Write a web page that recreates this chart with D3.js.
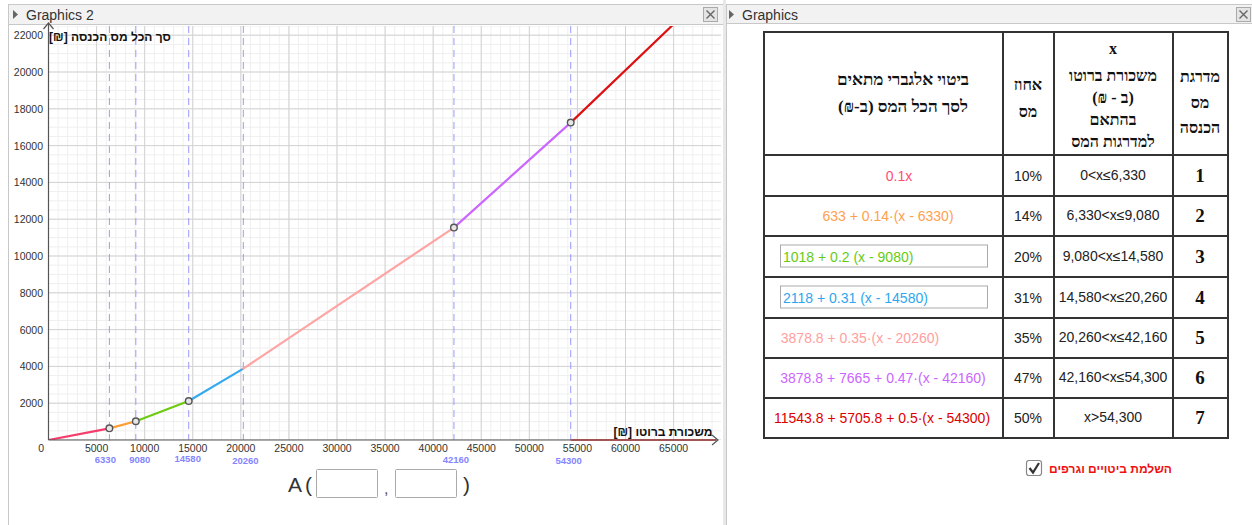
<!DOCTYPE html>
<html><head><meta charset="utf-8">
<script src="https://cdn.jsdelivr.net/npm/d3@7"></script>
<style>
body{margin:0;background:#fff;overflow:hidden}
svg{display:block;font-family:"Liberation Sans",Arial,sans-serif}
</style>
</head><body>
<svg id="c" width="1252" height="525"></svg>
<script>
// ---------- DATA ----------
const bracketStart = [0, 6330, 9080, 14580, 20260, 42160, 54300];
const bracketEnd   = [6330, 9080, 14580, 20260, 42160, 54300, 70000];
const taxAtStart   = [0, 633, 1018, 2118, 3878.8, 11543.8, 17249.6];
const taxAtEnd     = [633, 1018, 2118, 3878.8, 11543.8, 17249.6, 25099.6];
const pointX = [6330, 9080, 14580, 42160, 54300];
const pointY = [633, 1018, 2118, 11543.8, 17249.6];
const dashedX = [6330, 9080, 14580, 20260, 42160, 54300];
const xTicks = [5000,10000,15000,20000,25000,30000,35000,40000,45000,50000,55000,60000,65000];
const yTicks = [2000,4000,6000,8000,10000,12000,14000,16000,18000,20000,22000];
const taxRates = ["10%","14%","20%","31%","35%","47%","50%"];
const rangeLabels = ["0<x≤6,330","6,330<x≤9,080","9,080<x≤14,580","14,580<x≤20,260","20,260<x≤42,160","42,160<x≤54,300","x>54,300"];
const expressions = ["0.1x","633 + 0.14·(x - 6330)","1018 + 0.2 (x - 9080)","2118 + 0.31 (x - 14580)","3878.8 + 0.35·(x - 20260)","3878.8 + 7665 + 0.47·(x - 42160)","11543.8 + 5705.8 + 0.5·(x - 54300)"];
const bracketNumbers = ["1","2","3","4","5","6","7"];

// ---------- STYLE / LAYOUT ----------
const segColors  = ["#f53d6b","#ff9c33","#6dcc12","#36aaf0","#ffa3a3","#cc66ff","#dd1111"];
const textColors = ["#ff4d73","#ffa04d","#66cc11","#2ea7ee","#ffa0a0","#cc66ff","#dd0000"];
const exprIsInput = [false,false,true,true,false,false,false];
const exprCenter = [899,888,0,0,860,883,882];
const rowTops = [155,196,236,277,318,358,398,438];
const colX = [764,1003,1054,1173,1228];
const blueLabelDx = [-4,4,-1,2,2,-2];
const blueLabelDy = [0,0,-1,1,0,1];

const svg = d3.select("#c");

// ---------- PANELS ----------
svg.append("rect").attr("x",8.5).attr("y",4.5).attr("width",715).attr("height",530).attr("fill","#fff").attr("stroke","#c8c8c8");
svg.append("rect").attr("x",8.5).attr("y",4.5).attr("width",715).attr("height",20).attr("fill","#f2f2f2").attr("stroke","#c8c8c8");
svg.append("rect").attr("x",726.5).attr("y",4.5).attr("width",530).attr("height",530).attr("fill","#fff").attr("stroke","#c8c8c8");
svg.append("rect").attr("x",726.5).attr("y",4.5).attr("width",530).attr("height",19).attr("fill","#f2f2f2").attr("stroke","#c8c8c8");
svg.append("rect").attr("x",723).attr("y",0).attr("width",3).attr("height",525).attr("fill","#e8e8e8");

function titleBar(x, label){
  svg.append("path").attr("d",`M${x},10 L${x+5},14.5 L${x},19 Z`).attr("fill","#666");
  svg.append("text").attr("x",x+13).attr("y",20).attr("font-size",14).attr("fill","#333").text(label);
}
titleBar(13,"Graphics 2");
titleBar(729,"Graphics");
function closeBtn(x){
  svg.append("rect").attr("x",x+0.5).attr("y",7.5).attr("width",14).attr("height",14).attr("fill","#e4e4e4").attr("stroke","#aaa");
  svg.append("path").attr("d",`M${x+3.5},${10.5} L${x+11.5},${18.5} M${x+11.5},${10.5} L${x+3.5},${18.5}`).attr("stroke","#666").attr("stroke-width",1.4);
}
closeBtn(703);
closeBtn(1236);

// ---------- CHART ----------
const x = d3.scaleLinear().domain([0,70000]).range([48.5, 48.5+70000*0.009617]);
const y = d3.scaleLinear().domain([0,22500]).range([440, 440-22500*0.0184]);
const plotL = 48.5, plotR = 721, plotT = 26, plotB = 440;

svg.append("clipPath").attr("id","clip").append("rect").attr("x",plotL).attr("y",plotT).attr("width",plotR-plotL).attr("height",plotB-plotT);
const g = svg.append("g").attr("clip-path","url(#clip)");

const minorX = d3.range(0,70001,1000), minorY = d3.range(0,22501,500);
g.selectAll(".mx").data(minorX).join("line").attr("x1",d=>x(d)).attr("x2",d=>x(d)).attr("y1",plotT).attr("y2",plotB).attr("stroke","#efefef");
g.selectAll(".my").data(minorY).join("line").attr("y1",d=>y(d)).attr("y2",d=>y(d)).attr("x1",plotL).attr("x2",plotR).attr("stroke","#efefef");
const majorX = d3.range(0,70001,5000), majorY = d3.range(0,22501,2000);
g.selectAll(".Mx").data(majorX).join("line").attr("x1",d=>x(d)).attr("x2",d=>x(d)).attr("y1",plotT).attr("y2",plotB).attr("stroke","#d3d3d3");
g.selectAll(".My").data(majorY).join("line").attr("y1",d=>y(d)).attr("y2",d=>y(d)).attr("x1",plotL).attr("x2",plotR).attr("stroke","#d3d3d3");

g.selectAll(".dl").data(dashedX).join("line").attr("x1",d=>x(d)).attr("x2",d=>x(d)).attr("y1",plotT).attr("y2",plotB)
  .attr("stroke","#9a9aff").attr("stroke-dasharray","7,5");

// axes
svg.append("line").attr("x1",plotL).attr("x2",717).attr("y1",plotB).attr("y2",plotB).attr("stroke","#555").attr("stroke-width",1.2);
svg.append("line").attr("x1",x(54300)).attr("x2",716).attr("y1",plotB).attr("y2",plotB).attr("stroke","#a33a3a").attr("stroke-width",1.5);
svg.append("path").attr("d",`M712,435 L718,440 L712,445`).attr("fill","none").attr("stroke","#555").attr("stroke-width",1.2);
svg.append("line").attr("x1",plotL).attr("x2",plotL).attr("y1",plotB).attr("y2",24).attr("stroke","#555").attr("stroke-width",1.2);
svg.append("path").attr("d",`M${plotL-5},29 L${plotL},23 L${plotL+5},29`).attr("fill","none").attr("stroke","#555").attr("stroke-width",1.2);

// tick labels
svg.selectAll(".xt").data(xTicks).join("text").attr("x",d=>x(d)).attr("y",452).attr("text-anchor","middle")
  .attr("font-size",10.5).attr("fill","#333").text(d=>d);
svg.append("text").attr("x",44).attr("y",452).attr("text-anchor","end").attr("font-size",10.5).attr("fill","#333").text("0");
svg.selectAll(".yt").data(yTicks).join("text").attr("x",43).attr("y",d=>y(d)+4).attr("text-anchor","end")
  .attr("font-size",10.5).attr("fill","#333").text(d=>d);
svg.selectAll(".bl").data(dashedX).join("text").attr("x",(d,i)=>x(d)+blueLabelDx[i]).attr("y",(d,i)=>463+blueLabelDy[i]).attr("text-anchor","middle")
  .attr("font-size",9.5).attr("font-weight","bold").attr("fill","#8585ff").text(d=>d);

// segments
g.selectAll(".seg").data(bracketStart).join("line")
  .attr("x1",(d,i)=>x(bracketStart[i])).attr("y1",(d,i)=>y(taxAtStart[i]))
  .attr("x2",(d,i)=>x(bracketEnd[i])).attr("y2",(d,i)=>y(taxAtEnd[i]))
  .attr("stroke",(d,i)=>segColors[i]).attr("stroke-width",2.2).attr("stroke-linecap","round");

// points
svg.selectAll(".pt").data(pointX).join("circle").attr("cx",d=>x(d)).attr("cy",(d,i)=>y(pointY[i])).attr("r",3.3)
  .attr("fill","#e6e6e6").attr("stroke","#555").attr("stroke-width",1.4);

// axis titles
svg.append("text").attr("x",110).attr("y",41).attr("text-anchor","middle").attr("direction","rtl")
  .attr("font-size",12).attr("font-weight","bold").attr("fill","#111").text("סך הכל מס הכנסה [₪]");
svg.append("text").attr("x",663).attr("y",436).attr("text-anchor","middle").attr("direction","rtl")
  .attr("font-size",12).attr("font-weight","bold").attr("fill","#111").text("משכורת ברוטו [₪]");

// A( , )
svg.append("text").attr("x",288).attr("y",492).attr("font-size",21).attr("fill","#333").text("A");
svg.append("text").attr("x",305).attr("y",492).attr("font-size",21).attr("fill","#333").text("(");
svg.append("rect").attr("x",316.5).attr("y",469.5).attr("width",61).attr("height",28).attr("fill","#fff").attr("stroke","#aaa").attr("rx",1);
svg.append("text").attr("x",384).attr("y",494).attr("font-size",16).attr("fill","#555").text(",");
svg.append("rect").attr("x",395.5).attr("y",469.5).attr("width",61).attr("height",28).attr("fill","#fff").attr("stroke","#aaa").attr("rx",1);
svg.append("text").attr("x",463).attr("y",492).attr("font-size",21).attr("fill","#333").text(")");

// ---------- TABLE ----------
const tg = svg.append("g");
const serif = "'Liberation Serif','Times New Roman',serif";
function htext(cx, cy, s, size){
  tg.append("text").attr("x",cx).attr("y",cy).attr("text-anchor","middle").attr("direction","rtl")
    .attr("font-family",serif).attr("font-size",size||15).attr("font-weight","bold").attr("fill","#111").text(s);
}
htext(903,85,"ביטוי אלגברי מתאים",17);
htext(903,112,"לסך הכל המס (ב-₪)",17);
htext(1028,90,"אחוז",16);
htext(1028,117,"מס",16);
htext(1113,54,"x",16);
htext(1113,81,"משכורת ברוטו",16);
htext(1113,103,"(ב - ₪)",16);
htext(1113,125,"בהתאם",16);
htext(1113,147,"למדרגות המס",16);
htext(1200,82,"מדרגת",16);
htext(1200,108,"מס",16);
htext(1200,133,"הכנסה",16);

bracketNumbers.forEach((n,i)=>{
  const cy = (rowTops[i]+rowTops[i+1])/2;
  if(exprIsInput[i]){
    tg.append("rect").attr("x",780.5).attr("y",cy-11.5).attr("width",207).attr("height",22).attr("fill","#fff").attr("stroke","#aaa");
    tg.append("text").attr("x",783).attr("y",cy+5).attr("font-size",14).attr("fill",textColors[i]).text(expressions[i]);
  } else {
    tg.append("text").attr("x",exprCenter[i]).attr("y",cy+5).attr("text-anchor","middle").attr("font-size",14).attr("fill",textColors[i]).text(expressions[i]);
  }
  tg.append("text").attr("x",1028).attr("y",cy+5).attr("text-anchor","middle").attr("font-size",14).attr("fill","#222").text(taxRates[i]);
  tg.append("text").attr("x",1113).attr("y",cy+4).attr("text-anchor","middle").attr("font-size",14).attr("fill","#222").text(rangeLabels[i]);
  tg.append("text").attr("x",1200).attr("y",cy+6).attr("text-anchor","middle").attr("font-family",serif).attr("font-size",19).attr("font-weight","bold").attr("fill","#111").text(n);
});
const tTop = 32, tBot = 438;
colX.forEach(cx=>tg.append("line").attr("x1",cx).attr("x2",cx).attr("y1",tTop).attr("y2",tBot).attr("stroke","#333").attr("stroke-width",2));
[tTop].concat(rowTops).forEach(ry=>tg.append("line").attr("x1",colX[0]-1).attr("x2",colX[4]+1).attr("y1",ry).attr("y2",ry).attr("stroke","#333").attr("stroke-width",2));

// checkbox
svg.append("rect").attr("x",1026.5).attr("y",460.5).attr("width",15).attr("height",15).attr("rx",2.5).attr("fill","#fff").attr("stroke","#888").attr("stroke-width",1.2);
svg.append("path").attr("d","M1029.5,468 L1033,472.5 L1039,463").attr("fill","none").attr("stroke","#333").attr("stroke-width",2.2);
svg.append("text").attr("x",1049).attr("y",473).attr("direction","rtl").attr("text-anchor","end")
  .attr("font-size",12).attr("font-weight","bold").attr("fill","#ee1111").text("השלמת ביטויים וגרפים");
</script>
</body></html>
